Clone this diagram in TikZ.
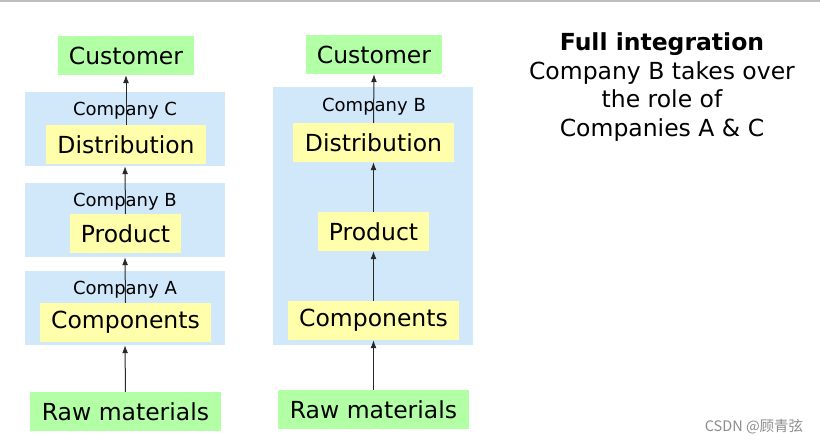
\documentclass[tikz,border=0pt]{standalone}
\usepackage{fontspec}
\setmainfont{DejaVu Sans}
\newfontfamily\cjkfont{Noto Sans CJK SC}
\usepackage{tikz}
\usetikzlibrary{arrows.meta}
\definecolor{custgreen}{RGB}{178,255,166}
\definecolor{stepyellow}{RGB}{255,255,171}
\definecolor{firmblue}{RGB}{209,232,251}
\definecolor{flowgray}{RGB}{40,40,40}
\tikzset{
  ends/.style={fill=custgreen,inner sep=0pt,font=\fontsize{23.5}{27}\selectfont},
  stage/.style={fill=stepyellow,inner sep=0pt,minimum height=39pt,font=\fontsize{23.5}{27}\selectfont},
  firm/.style={fill=firmblue,inner sep=0pt},
  firmname/.style={inner sep=0pt,font=\fontsize{18}{21}\selectfont},
  flow/.style={draw=flowgray,line width=1pt,-{Latex[length=8pt,width=6pt]}}
}

\begin{document}
\begin{tikzpicture}[x=1pt,y=-1pt]
\useasboundingbox (0,0) rectangle (820,444);
\draw[draw=black!25,line width=2pt](0,1)--(820,1);
% separate companies
\node[firm,minimum width=200pt,minimum height=74pt] (firmC) at (125,129) {};
\node[firm,minimum width=200pt,minimum height=74pt] (firmB) at (125,220) {};
\node[firm,minimum width=200pt,minimum height=74pt] (firmA) at (125,308) {};
\node[firmname] (nameC) at (125,111) {Company C};
\node[firmname] (nameB) at (125,202) {Company B};
\node[firmname] (nameA) at (125,290) {Company A};
\node[ends,minimum width=136pt,minimum height=39pt] (cust1) at (126,55.5) {Customer};
\node[stage,minimum width=160pt] (dist1) at (126,144.5) {Distribution};
\node[stage,minimum width=111pt] (prod1) at (125.5,233.5) {Product};
\node[stage,minimum width=171pt] (comp1) at (125.5,322.5) {Components};
\node[ends,minimum width=191pt,minimum height=39pt] (raw1) at (125.5,411.5) {Raw materials};
\draw[flow](raw1.north)--(firmA.south);
\draw[flow](comp1.north)--(firmB.south);
\draw[flow](prod1.north)--(firmC.south);
\draw[flow](dist1.north)--(cust1.south);
% full integration
\node[firm,minimum width=200pt,minimum height=258pt] (firmB2) at (373,216) {};
\node[firmname] (nameB2) at (374,107) {Company B};
\node[ends,minimum width=136pt,minimum height=39pt] (cust2) at (374,54.5) {Customer};
\node[stage,minimum width=161pt] (dist2) at (373.5,142.5) {Distribution};
\node[stage,minimum width=111pt] (prod2) at (373.5,231.5) {Product};
\node[stage,minimum width=171pt] (comp2) at (373.5,320.5) {Components};
\node[ends,minimum width=191pt,minimum height=39pt] (raw2) at (373.5,409.5) {Raw materials};
\draw[flow](raw2.north)--(comp2.south);
\draw[flow](comp2.north)--(prod2.south);
\draw[flow](prod2.north)--(dist2.south);
\draw[flow](dist2.north)--(cust2.south);
\node[align=center,inner sep=0pt,font=\fontsize{23.5}{28.8}\selectfont] (note) at (662,87)
  {\textbf{Full integration}\\Company B takes over\\the role of\\Companies A \& C};
\node[inner sep=0pt,text=black!45,font=\fontsize{14.5}{17}\cjkfont] (mark) at (754,427) {CSDN @顾青弦};
\end{tikzpicture}
\end{document}
